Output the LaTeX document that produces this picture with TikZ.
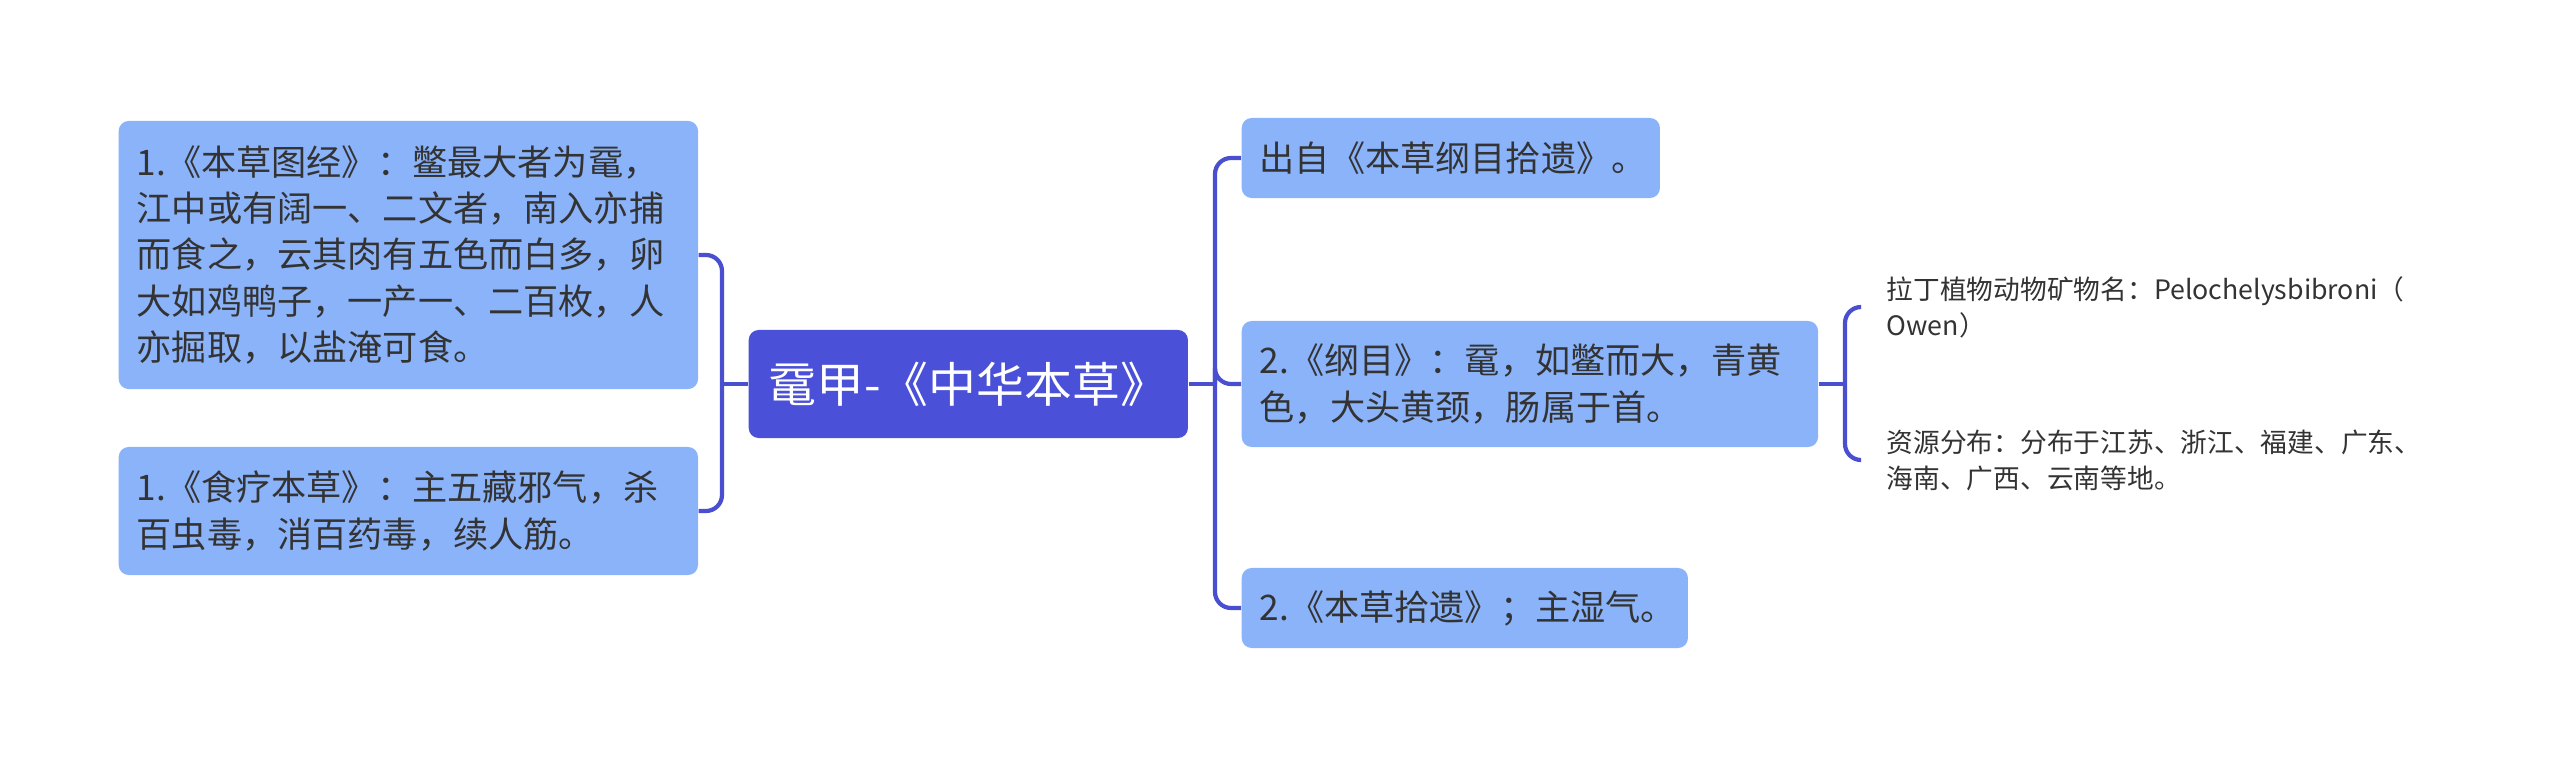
\documentclass[tikz,border=0pt]{standalone}
\usepackage{fontspec}
\setmainfont{Noto Sans CJK SC}
\definecolor{rootblue}{HTML}{4A50D8}
\definecolor{leafblue}{HTML}{8BB3FA}
\definecolor{linkblue}{HTML}{4A4FCF}
\definecolor{txtgray}{HTML}{333333}

\begin{document}
\begin{tikzpicture}[x=0.01cm, y=-0.01cm,
    topic/.style={fill=leafblue, rounded corners=0.1cm, text=txtgray, align=left, anchor=west,
        inner xsep=0.18cm, font=\fontsize{10pt}{13.2pt}\selectfont},
    root/.style={fill=rootblue, rounded corners=0.1cm, text=white, anchor=west,
        font=\fontsize{13.6pt}{15pt}\selectfont},
    note/.style={text=txtgray, align=left, anchor=west, inner xsep=0.25cm,
        font=\fontsize{7.6pt}{10.2pt}\selectfont},
    link/.style={linkblue, line width=1.2pt, rounded corners=0.16cm}]
    \useasboundingbox (0,0) rectangle (2560,767);

    % Root
    \node[root, minimum width=4.39cm, minimum height=1.08cm] (root) at (748,384) {鼋甲-《中华本草》};

    % Left branches
    \node[topic, text width=5.43cm, minimum height=2.68cm] (jing) at (118,255)
        {1.《本草图经》：鳖最大者为鼋，\\江中或有阔一、二文者，南入亦捕\\而食之，云其肉有五色而白多，卵\\大如鸡鸭子，一产一、二百枚，人\\亦掘取，以盐淹可食。};
    \node[topic, text width=5.43cm, minimum height=1.28cm] (shiliao) at (118,511)
        {1.《食疗本草》：主五藏邪气，杀\\百虫毒，消百药毒，续人筋。};

    % Right branches
    \node[topic, text width=3.82cm, minimum height=0.8cm] (chuzi) at (1241,158) {出自《本草纲目拾遗》。};
    \node[topic, text width=5.40cm, minimum height=1.26cm] (gangmu) at (1241,384)
        {2.《纲目》：鼋，如鳖而大，青黄\\色，大头黄颈，肠属于首。};
    \node[topic, text width=4.10cm, minimum height=0.8cm] (shiyi) at (1241,608) {2.《本草拾遗》；主湿气。};

    % Notes
    \node[note] (latin) at (1861,307) {拉丁植物动物矿物名：Pelochelysbibroni（\\Owen）};
    \node[note] (ziyuan) at (1861,460) {资源分布：分布于江苏、浙江、福建、广东、\\海南、广西、云南等地。};

    % Connectors
    \coordinate (jl) at (722,384);
    \coordinate (jr) at (1215,384);
    \coordinate (jn) at (1845,384);
    \draw[link] (root.west) -- (jl);
    \draw[link] (jl) |- (jing.east);
    \draw[link] (jl) |- (shiliao.east);
    \draw[link] (root.east) -- (jr);
    \draw[link] (jr) |- (chuzi.west);
    \draw[link] (jr) |- (gangmu.west);
    \draw[link] (jr) |- (shiyi.west);
    \draw[link] (gangmu.east) -- (jn);
    \draw[link] (jn) |- (latin.west);
    \draw[link] (jn) |- (ziyuan.west);
\end{tikzpicture}
\end{document}
